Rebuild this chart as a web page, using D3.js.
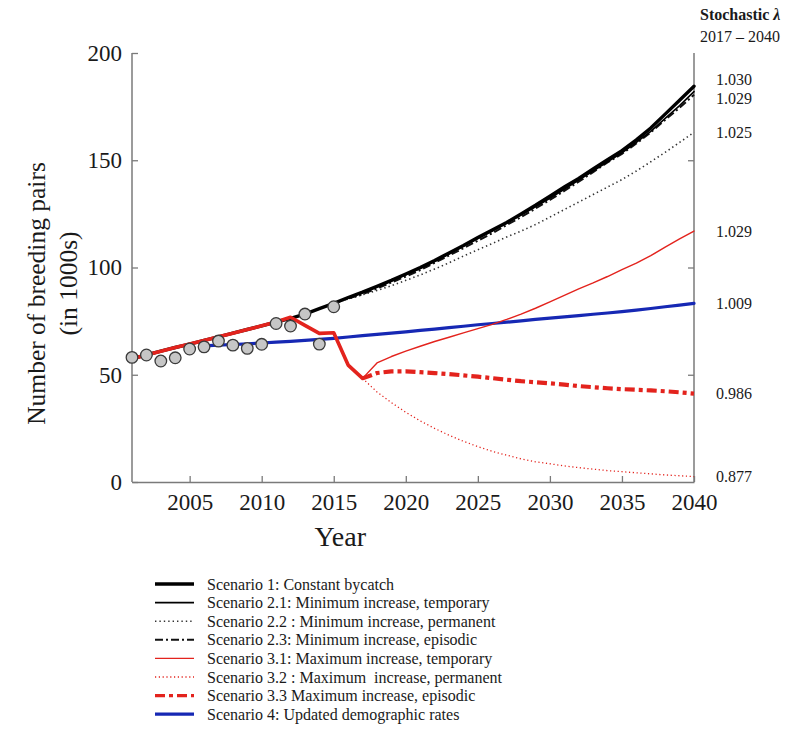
<!DOCTYPE html>
<html>
<head>
<meta charset="utf-8">
<script src="https://cdn.jsdelivr.net/npm/d3@7"></script>
<style>
  html, body { margin: 0; padding: 0; background: #fff; }
  svg text { font-family: "Liberation Serif", "Times New Roman", serif; }
</style>
</head>
<body>
<svg id="chart" width="809" height="730"></svg>
<script>
// Projected breeding-pair numbers (thousands) under each bycatch scenario
const years = d3.range(2001, 2041);

// Observed counts, 2001–2015
const obsYears = d3.range(2001, 2016);
const obsValues = [58.1, 59.2, 56.4, 57.9, 62.0, 63.0, 65.7, 63.8, 62.3, 64.2, 73.9, 72.7, 78.3, 64.3, 81.7];

// Shared trajectory of scenarios 1, 2.x (2001–2015)
const blackHistory = [57.5, 59.2, 61.0, 62.7, 64.3, 66.0, 67.7, 69.4, 71.1, 72.8, 74.6, 76.3, 78.3, 80.8, 83.3];

// Scenario 1 and 2.x from 2016 to 2040
const s1Future  = [86.0, 88.5, 91.2, 94.0, 97.0, 100.0, 103.3, 106.8, 110.3, 114.0, 117.5, 121.0, 125.0, 129.0, 133.3, 137.5, 141.5, 146.0, 150.3, 154.5, 159.5, 165.0, 171.5, 178.0, 184.5];
const s21Future = [85.8, 88.2, 91.0, 93.8, 96.6, 99.5, 102.8, 106.3, 110.0, 113.5, 117.0, 120.7, 124.5, 128.3, 132.3, 136.5, 140.8, 145.0, 149.3, 153.5, 158.3, 163.5, 169.5, 175.5, 182.0];
const s22Future = [85.3, 87.3, 89.3, 91.5, 94.0, 96.5, 99.3, 102.2, 105.3, 108.3, 111.2, 114.2, 117.0, 120.0, 123.5, 127.0, 130.5, 134.0, 137.5, 141.0, 145.0, 149.3, 153.7, 158.3, 163.0];
const s23Future = [85.5, 87.5, 90.2, 93.0, 95.8, 98.8, 102.2, 105.6, 109.0, 112.5, 116.0, 119.8, 123.5, 127.5, 131.5, 135.7, 140.0, 144.5, 149.0, 153.0, 157.8, 163.0, 168.8, 174.5, 180.5];

// Shared trajectory of scenarios 3.x (2001–2017)
const redHistory = [57.5, 59.2, 61.0, 62.7, 64.3, 66.0, 67.7, 69.4, 71.1, 72.8, 74.6, 76.8, 73.0, 69.3, 69.6, 54.5, 48.3];

// Scenario 3.x from 2018 to 2040
const s31Future = [55.5, 58.5, 61.0, 63.3, 65.5, 67.5, 69.5, 71.5, 73.5, 75.8, 78.3, 81.0, 84.0, 87.0, 90.0, 92.8, 95.8, 99.0, 102.0, 105.5, 109.5, 113.3, 117.0];
const s32Future = [42.0, 37.0, 32.5, 28.5, 25.0, 21.8, 19.0, 16.5, 14.3, 12.5, 10.8, 9.4, 8.5, 7.5, 6.7, 6.0, 5.3, 4.8, 4.3, 3.8, 3.3, 2.9, 2.5];
const s33Future = [50.8, 51.6, 51.6, 51.2, 50.8, 50.3, 49.7, 49.1, 48.4, 47.7, 47.0, 46.5, 46.0, 45.4, 44.7, 44.2, 43.7, 43.3, 43.0, 42.7, 42.3, 41.8, 41.2];

// Scenario 4, 2006–2040
const s4Years = d3.range(2006, 2041);
const s4Values = [63.5, 63.8, 64.1, 64.4, 64.8, 65.2, 65.6, 66.0, 66.5, 67.0, 67.6, 68.2, 68.8, 69.4, 70.0, 70.7, 71.3, 72.0, 72.6, 73.3, 73.9, 74.5, 75.1, 75.8, 76.4, 77.0, 77.6, 78.2, 78.8, 79.4, 80.1, 80.9, 81.7, 82.5, 83.3];

const yTicks = [0, 50, 100, 150, 200];
const xTicks = [2005, 2010, 2015, 2020, 2025, 2030, 2035, 2040];

const scenarioNames = [
  "Scenario 1: Constant bycatch",
  "Scenario 2.1: Minimum increase, temporary",
  "Scenario 2.2 : Minimum increase, permanent",
  "Scenario 2.3: Minimum increase, episodic",
  "Scenario 3.1: Maximum increase, temporary",
  "Scenario 3.2 : Maximum\u00a0 increase, permanent",
  "Scenario 3.3 Maximum increase, episodic",
  "Scenario 4: Updated demographic rates"
];
const scenarioKeys = ["s1", "s21", "s22", "s23", "s31", "s32", "s33", "s4"];

// Stochastic growth rates 2017–2040, attached to the scenario line they describe
const lambdaKeys   = ["s1", "s21", "s22", "s31", "s4", "s33", "s32"];
const lambdaLabels = ["1.030", "1.029", "1.025", "1.029", "1.009", "0.986", "0.877"];

// ---- assemble series ------------------------------------------------------
const RED = "#e3231d", BLUE = "#1628b4";
const SERIF = "Liberation Serif, Times New Roman, serif";
const histYears = years.slice(0, blackHistory.length);
const redHistYears = years.slice(0, redHistory.length);
const fromBlack = (fut) => {
  const ys = years.slice(blackHistory.length - 1);
  const vs = [blackHistory[blackHistory.length - 1]].concat(fut);
  return ys.map((y, i) => ({ year: y, value: vs[i] }));
};
const fromRed = (fut) => {
  const ys = years.slice(redHistory.length - 1);
  const vs = [redHistory[redHistory.length - 1]].concat(fut);
  return ys.map((y, i) => ({ year: y, value: vs[i] }));
};
const blackHist = histYears.map((y, i) => ({ year: y, value: blackHistory[i] }));

const series = {
  s1:  blackHist.concat(fromBlack(s1Future).slice(1)),
  s21: fromBlack(s21Future),
  s22: fromBlack(s22Future),
  s23: fromBlack(s23Future),
  s31: fromRed(s31Future),
  s32: fromRed(s32Future),
  s33: fromRed(s33Future),
  s4:  s4Years.map((y, i) => ({ year: y, value: s4Values[i] }))
};
const redHist = redHistYears.map((y, i) => ({ year: y, value: redHistory[i] }));

const styles = {
  s1:  { color: "#000", width: 3.4, dash: null },
  s21: { color: "#000", width: 1.6, dash: null },
  s22: { color: "#333", width: 1.6, dash: "1.4,3" },
  s23: { color: "#111", width: 2.0, dash: "8,3,2,3" },
  s31: { color: RED, width: 1.4, dash: null },
  s32: { color: RED, width: 1.3, dash: "1.2,2.6" },
  s33: { color: RED, width: 4.2, dash: "10,4,4,4" },
  s4:  { color: BLUE, width: 3.2, dash: null }
};

// ---- layout ---------------------------------------------------------------
const svg = d3.select("#chart").attr("font-family", SERIF);
const plot = { left: 132, right: 694, top: 53, bottom: 482 };

const x = d3.scaleLinear().domain([2001, 2040]).range([plot.left, plot.right]);
const y = d3.scaleLinear().domain([0, 200]).range([plot.bottom, plot.top]);

const AXIS = "#7a7a7a";
const TEXT = "#1a1a1a";

// axes: ticks point into the plot
const gx = svg.append("g").attr("transform", `translate(0,${plot.bottom})`)
  .call(d3.axisBottom(x).tickValues(xTicks).tickFormat(d3.format("d")).tickSizeInner(-6).tickSizeOuter(0).tickPadding(12));
const gy = svg.append("g").attr("transform", `translate(${plot.left},0)`)
  .call(d3.axisLeft(y).tickValues(yTicks).tickSizeInner(-6).tickSizeOuter(0).tickPadding(10));
const gr = svg.append("g").attr("transform", `translate(${plot.right},0)`)
  .call(d3.axisRight(y).tickValues(yTicks.slice(1, -1)).tickSizeInner(-6).tickSizeOuter(0).tickFormat(""));

[gx, gy, gr].forEach(g => {
  g.attr("font-family", SERIF);
  g.select(".domain").attr("stroke", AXIS).attr("stroke-width", 1.5);
  g.selectAll(".tick line").attr("stroke", AXIS).attr("stroke-width", 1.3);
  g.selectAll(".tick text").attr("fill", TEXT).attr("font-size", 23).attr("font-family", SERIF);
});
gx.selectAll(".tick text").attr("dy", "0.71em");
// extend the axis lines to the frame corners
gy.select(".domain").attr("d", `M0,${y(200)}V${plot.bottom}`);
gr.select(".domain").attr("d", `M0,${y(200)}V${plot.bottom}`);

// axis titles
svg.append("text").attr("x", x(2015.45)).attr("y", 546).attr("text-anchor", "middle")
  .attr("font-size", 28).attr("fill", TEXT).attr("font-family", SERIF).text("Year");
svg.append("text").attr("transform", `translate(45,${(plot.top + plot.bottom) / 2 + 26}) rotate(-90)`)
  .attr("text-anchor", "middle").attr("font-size", 25.5).attr("fill", TEXT).attr("font-family", SERIF)
  .text("Number of breeding pairs");
svg.append("text").attr("transform", `translate(77,${(plot.top + plot.bottom) / 2 + 16}) rotate(-90)`)
  .attr("text-anchor", "middle").attr("font-size", 25.5).attr("fill", TEXT).attr("font-family", SERIF)
  .text("(in 1000s)");

// ---- lines ----------------------------------------------------------------
const line = d3.line().x(d => x(d.year)).y(d => y(d.value));
const gLines = svg.append("g");

function drawLine(data, st) {
  gLines.append("path").datum(data)
    .attr("d", line).attr("fill", "none")
    .attr("stroke", st.color).attr("stroke-width", st.width)
    .attr("stroke-dasharray", st.dash)
    .attr("stroke-linejoin", "round").attr("stroke-linecap", st.dash ? "butt" : "round");
}

["s4", "s22", "s23", "s21", "s1", "s31", "s32", "s33"].forEach(k => drawLine(series[k], styles[k]));
drawLine(redHist, { color: RED, width: 3.6, dash: null });

// observed counts
svg.append("g").selectAll("circle")
  .data(obsYears.map((yr, i) => ({ year: yr, value: obsValues[i] })))
  .join("circle")
  .attr("cx", d => x(d.year)).attr("cy", d => y(d.value)).attr("r", 5.8)
  .attr("fill", "#c6c6c6").attr("stroke", "#3a3a3a").attr("stroke-width", 1.3);

// ---- stochastic lambda column --------------------------------------------
const head = svg.append("text").attr("x", 700).attr("y", 20).attr("font-size", 16)
  .attr("font-weight", "bold").attr("fill", TEXT).attr("font-family", SERIF);
head.append("tspan").text("Stochastic ");
head.append("tspan").attr("font-style", "italic").text("\u03bb");
svg.append("text").attr("x", 700).attr("y", 42).attr("font-size", 16).attr("fill", TEXT)
  .attr("font-family", SERIF).text("2017 \u2013 2040");

// place each rate at the end of its line, spreading labels that would collide
const lamb = lambdaKeys.map((k, i) => {
  const s = series[k];
  return { text: lambdaLabels[i], pos: y(s[s.length - 1].value) };
}).sort((a, b) => a.pos - b.pos);
const minGap = 19;
for (let pass = 0; pass < 20; pass++) {
  for (let i = 1; i < lamb.length; i++) {
    const overlap = minGap - (lamb[i].pos - lamb[i - 1].pos);
    if (overlap > 0) { lamb[i - 1].pos -= overlap / 2; lamb[i].pos += overlap / 2; }
  }
}
svg.append("g").selectAll("text").data(lamb).join("text")
  .attr("x", 716).attr("y", d => d.pos).attr("dy", "0.35em")
  .attr("font-size", 16).attr("fill", TEXT).attr("font-family", SERIF).text(d => d.text);

// ---- legend ---------------------------------------------------------------
const legend = svg.append("g");
scenarioKeys.forEach((k, i) => {
  const st = styles[k];
  const yy = 584 + i * 18.6;
  legend.append("line").attr("x1", 155).attr("x2", 194).attr("y1", yy).attr("y2", yy)
    .attr("stroke", st.color).attr("stroke-width", Math.min(st.width, 3.4))
    .attr("stroke-dasharray", st.dash);
  legend.append("text").attr("x", 207).attr("y", yy).attr("dy", "0.35em")
    .attr("font-size", 16).attr("fill", TEXT).attr("font-family", SERIF).text(scenarioNames[i]);
});
</script>
</body>
</html>
